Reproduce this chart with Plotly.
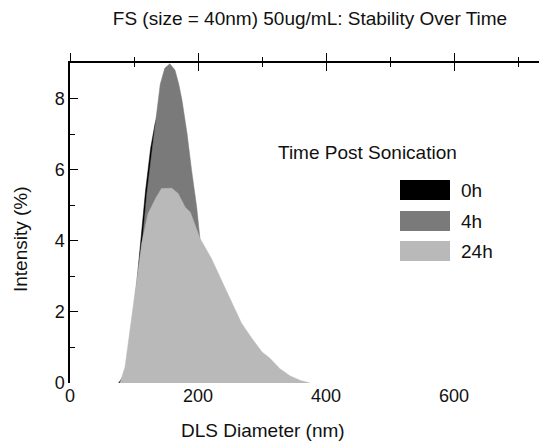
import plotly.graph_objects as go

# ---- data ----
x_0h = [76, 88, 98, 110, 118, 126, 133, 139, 146, 154, 162, 168, 173, 181, 188, 196, 201, 210, 220, 238, 258, 278]
y_0h = [0, 0.3, 1.6, 4.0, 5.4, 6.6, 7.3, 7.7, 8.1, 8.4, 8.4, 8.1, 7.7, 6.8, 5.8, 4.7, 3.9, 2.7, 1.7, 0.5, 0.05, 0]

x_4h = [78, 90, 100, 112, 120, 128, 135, 141, 148, 156, 164, 170, 175, 183, 190, 198, 203, 212, 221, 239, 260, 280]
y_4h = [0, 0.3, 1.5, 3.9, 5.3, 6.5, 7.6, 8.4, 8.85, 8.98, 8.8, 8.4, 7.95, 7.0, 5.98, 4.94, 4.07, 2.8, 1.8, 0.5, 0.05, 0]

x_24h = [78, 86, 112, 122, 135, 143, 159, 169, 180, 188, 203, 221, 239, 268, 284, 300, 312, 328, 344, 360, 375]
y_24h = [0, 0.45, 3.93, 4.77, 5.23, 5.47, 5.48, 5.33, 4.94, 4.8, 4.07, 3.5, 2.8, 1.68, 1.26, 0.87, 0.7, 0.4, 0.2, 0.07, 0]

series_names = ["0h", "4h", "24h"]
series_colors = ["#000000", "#7a7a7a", "#b9b9b9"]

x_ticks = [0, 200, 400, 600]
y_ticks = [0, 2, 4, 6, 8]
X_MAX = 750
Y_MAX = 9

FONT = "Liberation Sans, Arial, sans-serif"
FS = 18   # tick labels
FT = 19   # titles / legend text

fig = go.Figure()
for xs, ys, name, col in zip([x_0h, x_4h, x_24h], [y_0h, y_4h, y_24h], series_names, series_colors):
    fig.add_trace(go.Scatter(
        x=xs, y=ys, name=name, mode="lines", fill="tozeroy",
        fillcolor=col, line=dict(color=col, width=0.5),
        showlegend=False, hoverinfo="x+y+name",
    ))

# empty traces so helper axes exist
fig.add_trace(go.Scatter(x=[], y=[], xaxis="x2", yaxis="y2", showlegend=False))
fig.add_trace(go.Scatter(x=[], y=[], xaxis="x3", yaxis="y2", showlegend=False))

OFF = 8  # page body margin
W, H = 547, 447
L, R, T, B = 62, 5, 55, 72
pw, ph = W - L - R, H - T - B

def px(xp):  # page pixel -> paper fraction
    return (xp - OFF - L) / pw

def py(yp):
    return (H - B - (yp - OFF)) / ph

fig.update_layout(
    width=W, height=H,
    margin=dict(l=L, r=R, t=T, b=B, pad=0),
    paper_bgcolor="white", plot_bgcolor="white",
    font=dict(family=FONT, size=FS, color="#111111"),
    title=dict(text="FS (size = 40nm) 50ug/mL: Stability Over Time",
               x=0.5, xref="paper", xanchor="center",
               y=1 - 10 / H, yref="container", yanchor="middle",
               font=dict(size=FT, family=FONT, color="#111111")),
    xaxis=dict(range=[0, X_MAX], tickvals=x_ticks, ticks="", showline=False,
               showgrid=False, zeroline=False),
    yaxis=dict(range=[0, Y_MAX], tickvals=y_ticks, ticks="inside", ticklen=8,
               tickwidth=1.2, tickcolor="black",
               showline=True, linecolor="black", linewidth=1.5,
               minor=dict(dtick=1, ticks="inside", ticklen=5, tickcolor="black", tickwidth=1),
               showgrid=False, zeroline=False),
    xaxis2=dict(range=[0, X_MAX], overlaying="x", side="top", anchor="y",
                showline=True, linecolor="black", linewidth=1.5,
                ticks="outside", dtick=200, tick0=0, ticklen=8, tickwidth=1.2, tickcolor="black",
                minor=dict(dtick=100, ticks="outside", ticklen=4, tickcolor="black", tickwidth=1),
                showticklabels=False, showgrid=False, zeroline=False),
    xaxis3=dict(range=[0, X_MAX], overlaying="x", side="top", anchor="y",
                showline=False,
                ticks="inside", dtick=200, tick0=0, ticklen=8, tickwidth=1.2, tickcolor="black",
                minor=dict(dtick=100, ticks="inside", ticklen=4, tickcolor="black", tickwidth=1),
                showticklabels=False, showgrid=False, zeroline=False),
    yaxis2=dict(range=[0, Y_MAX], overlaying="y", side="right", anchor="x",
                showline=False, ticks="inside", dtick=2, tick0=0, ticklen=8, tickwidth=1.2,
                tickcolor="black",
                minor=dict(dtick=1, ticks="inside", ticklen=5, tickcolor="black", tickwidth=1),
                showticklabels=False, showgrid=False, zeroline=False),
)

# axis titles (positioned as in the reference)
fig.add_annotation(text="DLS Diameter (nm)", xref="paper", yref="paper",
                   x=px(263), y=py(430), xanchor="center", yanchor="middle",
                   showarrow=False, font=dict(size=FT))
fig.add_annotation(text="Intensity (%)", xref="paper", yref="paper",
                   x=px(20), y=py(239), xanchor="center", yanchor="middle",
                   textangle=-90, showarrow=False, font=dict(size=FT))

# manual legend (positions in page pixels)
fig.add_annotation(text="Time Post Sonication", xref="paper", yref="paper",
                   x=px(276), y=py(152), xanchor="left", yanchor="middle",
                   showarrow=False, font=dict(size=FT))
sw_tops = [180, 211, 241]
for name, col, top in zip(series_names, series_colors, sw_tops):
    fig.add_shape(type="rect", xref="paper", yref="paper",
                  x0=px(400), x1=px(450), y0=py(top + 20), y1=py(top),
                  fillcolor=col, line=dict(width=0))
    fig.add_annotation(text=name, xref="paper", yref="paper",
                       x=px(459), y=py(top + 10), xanchor="left", yanchor="middle",
                       showarrow=False, font=dict(size=FT))

fig.write_html("out.html")
